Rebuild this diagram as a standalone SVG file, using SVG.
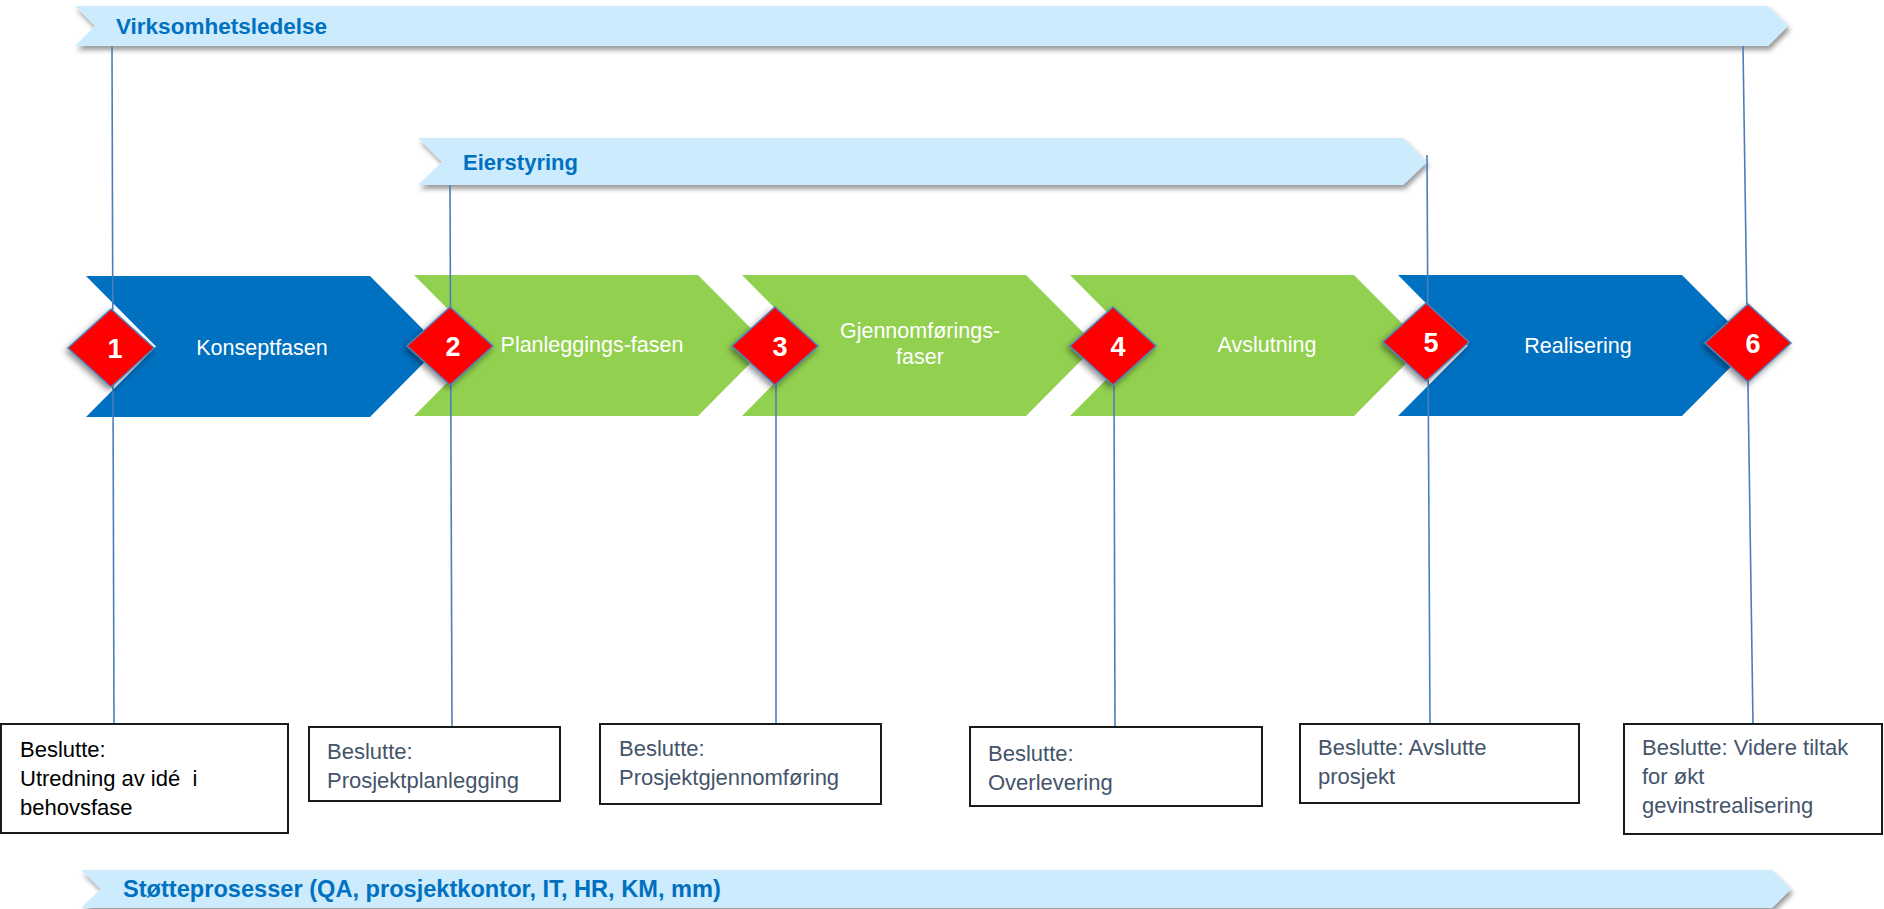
<svg xmlns="http://www.w3.org/2000/svg" width="1884" height="909" viewBox="0 0 1884 909">
<defs>
<filter id="sh" x="-5%" y="-30%" width="110%" height="170%">
<feDropShadow dx="2" dy="4" stdDeviation="2.5" flood-color="#000" flood-opacity="0.4"/>
</filter>
<filter id="dsh" x="-30%" y="-30%" width="160%" height="160%">
<feDropShadow dx="-2" dy="3" stdDeviation="3" flood-color="#000" flood-opacity="0.45"/>
</filter>
<style>
.banner{fill:#CCEBFD;filter:url(#sh)}
.btxt{font-family:"Liberation Sans",Arial,sans-serif;font-weight:bold;fill:#0070C0}
.blue{fill:#0070C0}
.green{fill:#92D050}
.ptxt{font-family:"Liberation Sans",Arial,sans-serif;font-size:21.5px;fill:#FFFFFF;text-anchor:middle}
.dia{fill:#FF0000;stroke:#4F81BD;stroke-width:1.5;filter:url(#dsh)}
.num{font-family:"Liberation Sans",Arial,sans-serif;font-size:27px;font-weight:bold;fill:#FFFFFF;text-anchor:middle}
.conn{stroke:#4A7EBB;stroke-width:1.6;fill:none}
.box{fill:#FFFFFF;stroke:#1A1A1A;stroke-width:2}
.t1{font-family:"Liberation Sans",Arial,sans-serif;font-size:22px;fill:#000000}
.t2{font-family:"Liberation Sans",Arial,sans-serif;font-size:22px;fill:#44546A}
</style>
</defs>

<g id="virksomhetsledelse">
<polygon class="banner" points="75,6 1768,6 1788,26 1768,46 75,46 95,26"/>
<text class="btxt" x="116" y="34" font-size="22.5">Virksomhetsledelse</text>
</g>

<g id="eierstyring">
<polygon class="banner" points="418,138 1403,138 1427,162 1403,185 418,185 442,162"/>
<text class="btxt" x="463" y="170" font-size="22">Eierstyring</text>
</g>

<g id="stotteprosesser">
<polygon class="banner" points="81,870 1772,870 1791,889 1772,908 81,908 101,889"/>
<text class="btxt" x="123" y="897" font-size="23.6">Støtteprosesser (QA, prosjektkontor, IT, HR, KM, mm)</text>
</g>

<g id="konseptfasen">
<polygon class="blue" points="86,276 370,276 440,346.5 370,417 86,417 156,346.5"/>
<text class="ptxt" x="262" y="355">Konseptfasen</text>
</g>
<g id="planleggingsfasen">
<polygon class="green" points="414,275 698,275 768,345.5 698,416 414,416 484,345.5"/>
<text class="ptxt" x="592" y="352">Planleggings-fasen</text>
</g>
<g id="gjennomforingsfaser">
<polygon class="green" points="742,275 1026,275 1096,345.5 1026,416 742,416 812,345.5"/>
<text class="ptxt" x="920" y="338">Gjennomførings-</text>
<text class="ptxt" x="920" y="364">faser</text>
</g>
<g id="avslutning">
<polygon class="green" points="1070,275 1354,275 1424,345.5 1354,416 1070,416 1140,345.5"/>
<text class="ptxt" x="1267" y="352">Avslutning</text>
</g>
<g id="realisering">
<polygon class="blue" points="1398,275 1682,275 1752,345.5 1682,416 1398,416 1468,345.5"/>
<text class="ptxt" x="1578" y="353">Realisering</text>
</g>

<g id="connectors">
<line class="conn" x1="112" y1="46" x2="114" y2="724"/>
<line class="conn" x1="450" y1="185" x2="452" y2="727"/>
<line class="conn" x1="776" y1="385" x2="776" y2="724"/>
<line class="conn" x1="1114" y1="386" x2="1115" y2="727"/>
<line class="conn" x1="1427" y1="155" x2="1430" y2="724"/>
<line class="conn" x1="1743" y1="46" x2="1753" y2="724"/>
</g>

<g id="milestone1">
<polygon class="dia" points="111,309 154,348 111,387 68,348"/>
<text class="num" x="115" y="358">1</text>
</g>
<g id="milestone2">
<polygon class="dia" points="450,307 493,346 450,385 407,346"/>
<text class="num" x="453" y="356">2</text>
</g>
<g id="milestone3">
<polygon class="dia" points="775,307 818,346 775,385 732,346"/>
<text class="num" x="780" y="356">3</text>
</g>
<g id="milestone4">
<polygon class="dia" points="1113,307 1156,346 1113,385 1070,346"/>
<text class="num" x="1118" y="356">4</text>
</g>
<g id="milestone5">
<polygon class="dia" points="1426,303 1469,342 1426,381 1383,342"/>
<text class="num" x="1431" y="352">5</text>
</g>
<g id="milestone6">
<polygon class="dia" points="1748,304 1791,343 1748,382 1705,343"/>
<text class="num" x="1753" y="353">6</text>
</g>

<g id="box1">
<rect class="box" x="1" y="724" width="287" height="109"/>
<text class="t1" x="20" y="757">Beslutte:</text>
<text class="t1" x="20" y="786" xml:space="preserve">Utredning av idé  i</text>
<text class="t1" x="20" y="815">behovsfase</text>
</g>
<g id="box2">
<rect class="box" x="309" y="727" width="251" height="74"/>
<text class="t2" x="327" y="759">Beslutte:</text>
<text class="t2" x="327" y="788">Prosjektplanlegging</text>
</g>
<g id="box3">
<rect class="box" x="600" y="724" width="281" height="80"/>
<text class="t2" x="619" y="756">Beslutte:</text>
<text class="t2" x="619" y="785">Prosjektgjennomføring</text>
</g>
<g id="box4">
<rect class="box" x="970" y="727" width="292" height="79"/>
<text class="t2" x="988" y="761">Beslutte:</text>
<text class="t2" x="988" y="790">Overlevering</text>
</g>
<g id="box5">
<rect class="box" x="1300" y="724" width="279" height="79"/>
<text class="t2" x="1318" y="755">Beslutte: Avslutte</text>
<text class="t2" x="1318" y="784">prosjekt</text>
</g>
<g id="box6">
<rect class="box" x="1624" y="724" width="258" height="110"/>
<text class="t2" x="1642" y="755">Beslutte: Videre tiltak</text>
<text class="t2" x="1642" y="784">for økt</text>
<text class="t2" x="1642" y="813">gevinstrealisering</text>
</g>
</svg>
